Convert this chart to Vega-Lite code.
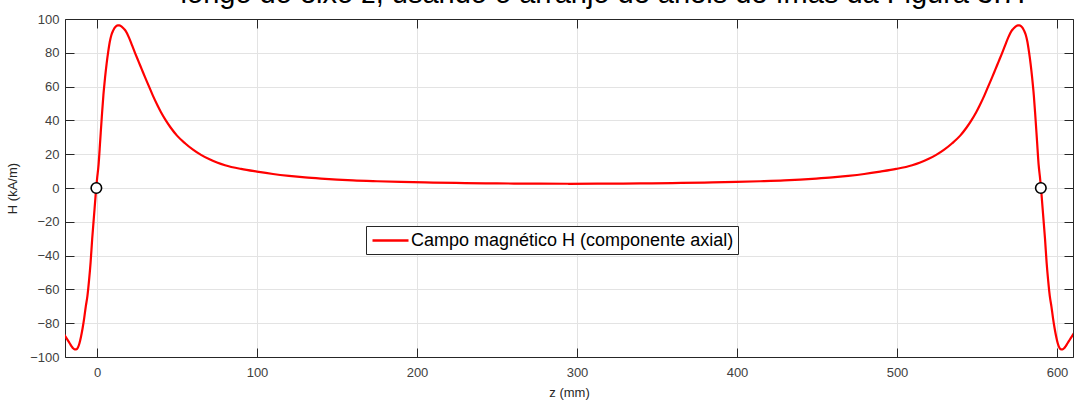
{
  "$schema": "https://vega.github.io/schema/vega-lite/v6.json",
  "autosize": {"type": "none"},
  "width": 1008,
  "height": 338,
  "padding": {"left": 65, "top": 19, "right": 4, "bottom": 44},
  "background": "white",
  "title": {
    "text": "longo do eixo z, usando o arranjo de anéis de ímãs da Figura 3.7.",
    "font": "Liberation Sans",
    "fontSize": 29,
    "fontWeight": "normal",
    "color": "black",
    "anchor": "middle",
    "frame": "group",
    "baseline": "alphabetic",
    "offset": 2,
    "dy": 21,
    "dx": 34
  },
  "config": {
    "view": {"stroke": null},
    "font": "Liberation Sans",
    "axis": {
      "labelFont": "Liberation Sans",
      "titleFont": "Liberation Sans",
      "labelFontSize": 13,
      "titleFontSize": 13,
      "titleFontWeight": "normal",
      "labelColor": "#404040",
      "titleColor": "#262626",
      "domainColor": "#262626",
      "tickColor": "#262626",
      "gridColor": "#e3e3e3",
      "gridOpacity": 1
    }
  },
  "resolve": {"axis": {"x": "independent", "y": "independent"}},
  "layer": [
    {
      "data": {
        "values": [
          {"z": -21, "H": -86}, {"z": -20, "H": -87.5}, {"z": -19, "H": -89}, {"z": -18, "H": -90.5},
          {"z": -17, "H": -92}, {"z": -16, "H": -93.5}, {"z": -15, "H": -94.8}, {"z": -14, "H": -95.5},
          {"z": -13, "H": -95.5}, {"z": -12, "H": -94.5}, {"z": -11, "H": -92}, {"z": -10, "H": -88},
          {"z": -9, "H": -83}, {"z": -8, "H": -77}, {"z": -7, "H": -70}, {"z": -6, "H": -64},
          {"z": -5, "H": -55}, {"z": -4, "H": -44}, {"z": -3, "H": -30}, {"z": -2, "H": -18},
          {"z": -1, "H": -6}, {"z": -0.5, "H": 0}, {"z": 0, "H": 5}, {"z": 1, "H": 14},
          {"z": 2, "H": 28}, {"z": 3, "H": 42}, {"z": 4, "H": 55}, {"z": 5, "H": 65},
          {"z": 6, "H": 73.5}, {"z": 7, "H": 80.5}, {"z": 8, "H": 86.5}, {"z": 9, "H": 90.5},
          {"z": 10, "H": 93}, {"z": 11, "H": 94.8}, {"z": 12, "H": 95.8}, {"z": 13, "H": 96.2},
          {"z": 14, "H": 96.2}, {"z": 15, "H": 95.8}, {"z": 16, "H": 95}, {"z": 17, "H": 94},
          {"z": 18, "H": 92.8}, {"z": 20, "H": 89}, {"z": 22, "H": 84.2}, {"z": 24, "H": 79.4},
          {"z": 26, "H": 74.8}, {"z": 28, "H": 70.2}, {"z": 30, "H": 65.6}, {"z": 32, "H": 61.2},
          {"z": 35, "H": 54.5}, {"z": 38, "H": 48.5}, {"z": 40, "H": 44.8}, {"z": 43, "H": 40},
          {"z": 46, "H": 35.8}, {"z": 50, "H": 31}, {"z": 55, "H": 26.5}, {"z": 60, "H": 22.7},
          {"z": 65, "H": 19.6}, {"z": 70, "H": 17.1}, {"z": 75, "H": 15.1}, {"z": 80, "H": 13.5},
          {"z": 90, "H": 11.3}, {"z": 100, "H": 9.7}, {"z": 110, "H": 8.3}, {"z": 120, "H": 7.2},
          {"z": 130, "H": 6.3}, {"z": 140, "H": 5.6}, {"z": 150, "H": 5}, {"z": 160, "H": 4.5},
          {"z": 175, "H": 4}, {"z": 190, "H": 3.6}, {"z": 210, "H": 3.2}, {"z": 230, "H": 2.9},
          {"z": 250, "H": 2.7}, {"z": 270, "H": 2.6}, {"z": 294.75, "H": 2.5},
          {"z": 319.5, "H": 2.6}, {"z": 339.5, "H": 2.7}, {"z": 359.5, "H": 2.9}, {"z": 379.5, "H": 3.2},
          {"z": 399.5, "H": 3.6}, {"z": 414.5, "H": 4}, {"z": 429.5, "H": 4.5}, {"z": 439.5, "H": 5},
          {"z": 449.5, "H": 5.6}, {"z": 459.5, "H": 6.3}, {"z": 469.5, "H": 7.2}, {"z": 479.5, "H": 8.3},
          {"z": 489.5, "H": 9.7}, {"z": 499.5, "H": 11.3}, {"z": 509.5, "H": 13.5}, {"z": 514.5, "H": 15.1},
          {"z": 519.5, "H": 17.1}, {"z": 524.5, "H": 19.6}, {"z": 529.5, "H": 22.7}, {"z": 534.5, "H": 26.5},
          {"z": 539.5, "H": 31}, {"z": 543.5, "H": 35.8}, {"z": 546.5, "H": 40}, {"z": 549.5, "H": 44.8},
          {"z": 551.5, "H": 48.5}, {"z": 554.5, "H": 54.5}, {"z": 557.5, "H": 61.2}, {"z": 559.5, "H": 65.6},
          {"z": 561.5, "H": 70.2}, {"z": 563.5, "H": 74.8}, {"z": 565.5, "H": 79.4}, {"z": 567.5, "H": 84.2},
          {"z": 569.5, "H": 89}, {"z": 571.5, "H": 92.8}, {"z": 572.5, "H": 94}, {"z": 573.5, "H": 95},
          {"z": 574.5, "H": 95.8}, {"z": 575.5, "H": 96.2}, {"z": 576.5, "H": 96.2}, {"z": 577.5, "H": 95.8},
          {"z": 578.5, "H": 94.8}, {"z": 579.5, "H": 93}, {"z": 580.5, "H": 90.5}, {"z": 581.5, "H": 86.5},
          {"z": 582.5, "H": 80.5}, {"z": 583.5, "H": 73.5}, {"z": 584.5, "H": 65}, {"z": 585.5, "H": 55},
          {"z": 586.5, "H": 42}, {"z": 587.5, "H": 28}, {"z": 588.5, "H": 14}, {"z": 589.5, "H": 5},
          {"z": 590, "H": 0}, {"z": 590.5, "H": -6}, {"z": 591.5, "H": -18}, {"z": 592.5, "H": -30},
          {"z": 593.5, "H": -44}, {"z": 594.5, "H": -55}, {"z": 595.5, "H": -64}, {"z": 596.5, "H": -70},
          {"z": 597.5, "H": -77}, {"z": 598.5, "H": -83}, {"z": 599.5, "H": -88}, {"z": 600.5, "H": -92},
          {"z": 601.5, "H": -94.5}, {"z": 602.5, "H": -95.5}, {"z": 603.5, "H": -95.5}, {"z": 604.5, "H": -94.8},
          {"z": 605.5, "H": -93.5}, {"z": 606.5, "H": -92}, {"z": 607.5, "H": -90.5}, {"z": 608.5, "H": -89},
          {"z": 609.5, "H": -87.5}, {"z": 610.5, "H": -86}
        ]
      },
      "transform": [{"calculate": "'Campo magnético H (componente axial)'", "as": "serie"}],
      "mark": {"type": "line", "clip": true, "strokeWidth": 2.2, "interpolate": "monotone"},
      "encoding": {
        "x": {
          "field": "z", "type": "quantitative",
          "scale": {"domain": [-20, 610], "nice": false, "zero": false},
          "axis": {
            "orient": "bottom", "title": "z (mm)", "values": [0, 100, 200, 300, 400, 500, 600],
            "grid": true, "tickSize": -9, "labelPadding": 18, "titlePadding": 7, "labelFlush": false
          }
        },
        "y": {
          "field": "H", "type": "quantitative",
          "scale": {"domain": [-100, 100], "nice": false},
          "axis": {
            "orient": "left", "title": "H (kA/m)",
            "values": [-100, -80, -60, -40, -20, 0, 20, 40, 60, 80, 100],
            "grid": true, "tickSize": -9, "labelPadding": 15, "titlePadding": 10, "labelFlush": false
          }
        },
        "color": {
          "field": "serie", "type": "nominal",
          "scale": {"range": ["#ff0000"]},
          "legend": {
            "title": null, "orient": "none", "legendX": 301, "legendY": 207,
            "strokeColor": "#262626", "fillColor": "white", "padding": 4,
            "labelFont": "Liberation Sans", "labelFontSize": 18, "labelColor": "black",
            "labelLimit": 0, "labelOffset": 10,
            "symbolType": "M-2,0H2", "symbolSize": 324, "symbolOffset": 10,
            "symbolStrokeWidth": 2.5, "symbolStrokeColor": "#ff0000", "symbolFillColor": "transparent"
          }
        }
      }
    },
    {
      "data": {"values": [{"z": -0.4, "H": 0}, {"z": 589.9, "H": 0}]},
      "mark": {"type": "point", "shape": "circle", "fill": "white", "fillOpacity": 1, "stroke": "black", "strokeWidth": 1.6, "size": 110, "opacity": 1},
      "encoding": {
        "x": {
          "field": "z", "type": "quantitative",
          "scale": {"domain": [-20, 610], "nice": false, "zero": false},
          "axis": {"orient": "top", "title": null, "labels": false, "grid": false, "values": [0, 100, 200, 300, 400, 500, 600], "tickSize": -9}
        },
        "y": {
          "field": "H", "type": "quantitative",
          "scale": {"domain": [-100, 100], "nice": false},
          "axis": {"orient": "right", "title": null, "labels": false, "grid": false, "values": [-100, -80, -60, -40, -20, 0, 20, 40, 60, 80, 100], "tickSize": -9}
        }
      }
    }
  ]
}
